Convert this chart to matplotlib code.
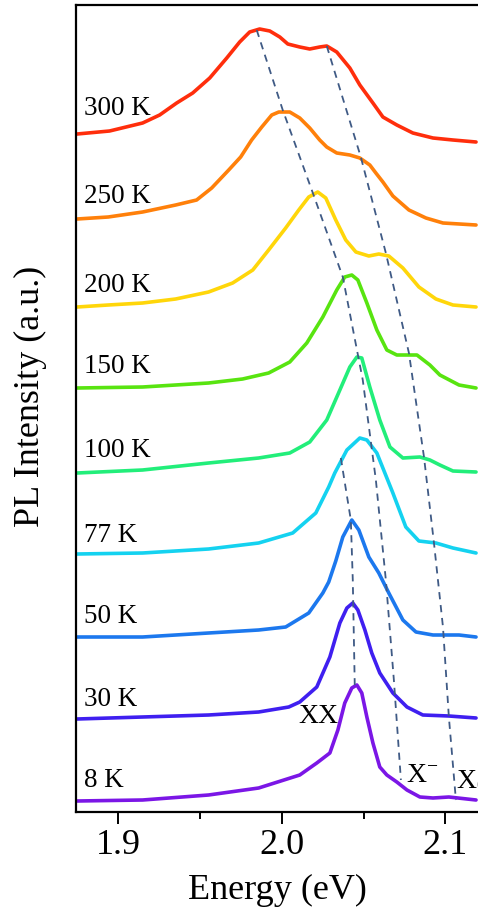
import matplotlib
matplotlib.use("Agg")
import matplotlib.pyplot as plt
from matplotlib.ticker import MultipleLocator, FormatStrFormatter

plt.rcParams['font.family'] = ['Liberation Serif', 'DejaVu Serif']
plt.rcParams['mathtext.fontset'] = 'custom'
plt.rcParams['mathtext.rm'] = 'Liberation Serif'
plt.rcParams['mathtext.it'] = 'Liberation Serif'

# ---------------- data ----------------
temperatures = ["8 K", "30 K", "50 K", "77 K", "100 K", "150 K", "200 K", "250 K", "300 K"]
offsets = [11, 93, 175, 258, 339, 424, 505, 593, 678]
colors = ["#7b16e6", "#3f1ff0", "#1c78ee", "#14d2f0", "#22ee7a", "#58e410",
          "#ffd60a", "#ff800a", "#ff2e0c"]

e_8K = [1.875, 1.915, 1.9553, 1.9859, 2.0110, 2.0214, 2.0294, 2.0343, 2.0385, 2.0428,
        2.0459, 2.0489, 2.0520, 2.0557, 2.0599, 2.0642, 2.0703, 2.0765, 2.0844, 2.0924,
        2.1021, 2.1187]
i_8K = [0, 1, 6, 13, 26, 38, 48, 71, 98, 113, 116, 108, 84, 58, 34, 26, 19, 11, 4, 3, 4, 1]

e_30K = [1.875, 1.915, 1.9553, 1.9859, 2.0043, 2.0110, 2.0214, 2.0294, 2.0355, 2.0398,
         2.0434, 2.0465, 2.0508, 2.0550, 2.0599, 2.0679, 2.0765, 2.0862, 2.1021, 2.1187]
i_30K = [0, 2, 4, 7, 12, 17, 32, 62, 96, 111, 116, 109, 89, 66, 46, 26, 12, 4, 3, 1]

e_50K = [1.875, 1.915, 1.9553, 1.9859, 2.0024, 2.0165, 2.0251, 2.0287, 2.0330, 2.0373,
         2.0428, 2.0471, 2.0532, 2.0593, 2.0654, 2.0740, 2.0820, 2.0924, 2.1083, 2.1187]
i_50K = [0, 0, 4, 7, 10, 24, 44, 55, 76, 100, 117, 107, 80, 64, 44, 17, 5, 2, 2, 0]

e_77K = [1.875, 1.915, 1.9553, 1.9859, 2.0067, 2.0208, 2.0287, 2.0324, 2.0398, 2.0477,
         2.0520, 2.0581, 2.0630, 2.0679, 2.0758, 2.0838, 2.0942, 2.1046, 2.1187]
i_77K = [0, 1, 5, 11, 21, 41, 67, 81, 104, 116, 114, 101, 81, 61, 27, 13, 11, 6, 1]

e_100K = [1.875, 1.915, 1.9553, 1.9859, 2.0049, 2.0171, 2.0275, 2.0355, 2.0416, 2.0459,
          2.0489, 2.0538, 2.0599, 2.0661, 2.0740, 2.0844, 2.0905, 2.0966, 2.1046, 2.1187]
i_100K = [0, 3, 10, 15, 20, 31, 53, 83, 106, 116, 115, 86, 53, 26, 15, 16, 13, 8, 2, 1]

e_150K = [1.875, 1.915, 1.9553, 1.9761, 1.9920, 2.0049, 2.0153, 2.0251, 2.0336, 2.0385,
          2.0428, 2.0465, 2.0520, 2.0581, 2.0642, 2.0703, 2.0783, 2.0826, 2.0905, 2.0966,
          2.1083, 2.1187]
i_150K = [0, 1, 5, 9, 15, 26, 45, 71, 98, 111, 113, 108, 85, 58, 38, 33, 33, 33, 23, 13,
          3, 0]

e_200K = [1.875, 1.894, 1.915, 1.9352, 1.9553, 1.9700, 1.9823, 1.9920, 2.0024, 2.0104,
          2.0165, 2.0220, 2.0269, 2.0330, 2.0391, 2.0453, 2.0532, 2.0593, 2.0654, 2.0740,
          2.0838, 2.0942, 2.1046, 2.1187]
i_200K = [0, 2, 4, 8, 15, 24, 37, 57, 79, 97, 110, 115, 109, 87, 67, 55, 51, 53, 51, 39,
          20, 8, 2, 0]

e_250K = [1.875, 1.894, 1.915, 1.9352, 1.9480, 1.9572, 1.9676, 1.9749, 1.9816, 1.9878,
          1.9939, 1.9982, 2.0049, 2.0110, 2.0171, 2.0232, 2.0275, 2.0336, 2.0416, 2.0477,
          2.0538, 2.0575, 2.0618, 2.0679, 2.0777, 2.0881, 2.0985, 2.1187]
i_250K = [0, 2, 7, 14, 19, 31, 49, 62, 79, 92, 104, 107, 107, 101, 91, 79, 72, 66, 64, 61,
          54, 46, 37, 23, 9, 1, -4, -6]

e_300K = [1.875, 1.8948, 1.915, 1.9254, 1.9358, 1.9456, 1.9560, 1.9664, 1.9743, 1.9804,
          1.9865, 1.9927, 1.9988, 2.0037, 2.0110, 2.0171, 2.0232, 2.0275, 2.0336, 2.0416,
          2.0477, 2.0557, 2.0618, 2.0703, 2.0801, 2.0924, 2.1046, 2.1187]
i_300K = [0, 3, 11, 19, 31, 41, 56, 76, 92, 102, 105, 103, 97, 90, 87, 85, 87, 88, 82, 66,
          49, 31, 17, 9, 1, -4, -6, -8]

energies = [e_8K, e_30K, e_50K, e_77K, e_100K, e_150K, e_200K, e_250K, e_300K]
intensities = [i_8K, i_30K, i_50K, i_77K, i_100K, i_150K, i_200K, i_250K, i_300K]

# guide lines following peak positions
xm_e = [1.9847, 2.0006, 2.0190, 2.0373, 2.0495, 2.0575, 2.0636, 2.0685, 2.0728]
xm_y = [782, 702, 619, 535, 432, 332, 232, 132, 32]
x0_e = [2.0275, 2.0483, 2.0636, 2.0777, 2.0869, 2.0930, 2.0985, 2.1021, 2.1064]
x0_y = [766, 655, 559, 459, 355, 269, 185, 95, 12]
xx_e = [2.0361, 2.0422, 2.0434, 2.0446]
xx_y = [354, 292, 232, 127]

label_y = [25, 106, 189, 270, 355, 439, 520, 609, 697]

# ---------------- figure ----------------
fig = plt.figure(figsize=(4.78, 9.08), dpi=100)
ax = fig.add_axes([76 / 478, 1 - 812 / 908, 1 - 76 / 478, (812 - 5) / 908])

for e, inten, off, col in zip(energies, intensities, offsets, colors):
    ax.plot(e, [v + off for v in inten], color=col, lw=2.6,
            solid_joinstyle='round', solid_capstyle='round')

dash_kw = dict(color="#3f5a85", lw=1.3, dashes=(4, 3.2))
ax.plot(xm_e, xm_y, **dash_kw)
ax.plot(x0_e, x0_y, **dash_kw)
ax.plot(xx_e, xx_y, **dash_kw)

for t, ly in zip(temperatures, label_y):
    ax.text(1.8789, ly, t, fontsize=19.5, ha='left', va='baseline')

ax.text(2.0104, 89, "XX", fontsize=20, ha='left', va='baseline')
ax.text(2.0758, 30, r"X$^{\mathrm{-}}$", fontsize=20, ha='left', va='baseline')
ax.text(2.1064, 24, r"X$_{0}$", fontsize=20, ha='left', va='baseline', clip_on=False)

ax.set_xlim(1.8743, 2.1199)
ax.set_ylim(0, 807)
ax.set_yticks([])
ax.xaxis.set_major_locator(MultipleLocator(0.1))
ax.xaxis.set_minor_locator(MultipleLocator(0.05))
ax.xaxis.set_major_formatter(FormatStrFormatter('%.1f'))
ax.tick_params(axis='x', which='major', direction='out', length=8.5, width=1.4,
               labelsize=26, pad=4)
ax.tick_params(axis='x', which='minor', direction='out', length=5, width=1.4)

for s in ['left', 'bottom', 'top']:
    ax.spines[s].set_linewidth(1.6)
ax.spines['right'].set_visible(False)

ax.set_xlabel("Energy (eV)", fontsize=26, labelpad=8)
ax.set_ylabel("PL Intensity (a.u.)", fontsize=26)
ax.yaxis.set_label_coords(-0.072, 0.515)

fig.savefig("out.png", dpi=100)
